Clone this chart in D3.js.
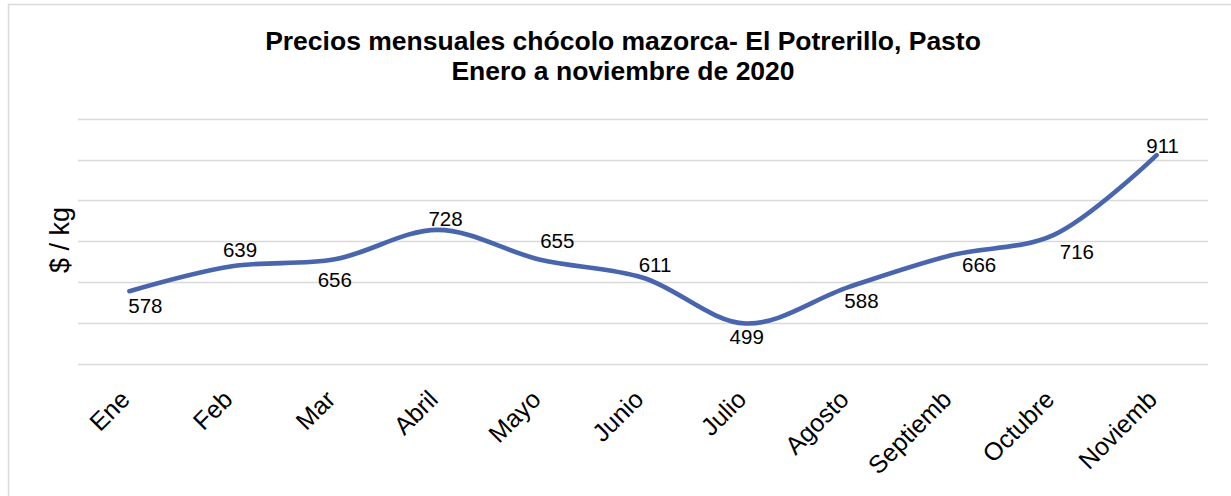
<!DOCTYPE html>
<html>
<head>
<meta charset="utf-8">
<script src="https://cdn.jsdelivr.net/npm/d3@7"></script>
<style>
  body { margin: 0; background: #fff; }
  svg { display: block; font-family: "Liberation Sans", Arial, sans-serif; }
</style>
</head>
<body>
<script>
// data
var months = ["Ene", "Feb", "Mar", "Abril", "Mayo", "Junio", "Julio", "Agosto", "Septiemb", "Octubre", "Noviemb"];
var prices = [578, 639, 656, 728, 655, 611, 499, 588, 666, 716, 911];
var yTicks = [400, 500, 600, 700, 800, 900, 1000];
var titleLines = ["Precios mensuales chócolo mazorca- El Potrerillo, Pasto", "Enero a noviembre de 2020"];

// where each value label sits relative to its point (dx, dy to baseline)
var labelShift = [[16, 22], [8, -9], [0, 28], [8, -4], [17, -12], [12, -6], [1, 20], [13, 21], [28, 17], [23, 24], [6, -2]];

var width = 1231, height = 496;

var svg = d3.select("body").append("svg")
    .attr("width", width)
    .attr("height", height);

// chart frame
svg.append("rect")
    .attr("x", 8.5).attr("y", 4.5)
    .attr("width", 1240).attr("height", 520)
    .attr("fill", "none")
    .attr("stroke", "#d9d9d9")
    .attr("stroke-width", 1.5);

var x = d3.scaleBand()
    .domain(months)
    .range([78, 1208]);

var y = d3.scaleLinear()
    .domain([400, 1000])
    .range([364, 118.7]);

// gridlines
svg.append("g")
    .selectAll("line")
    .data(yTicks)
    .enter().append("line")
    .attr("x1", 78).attr("x2", 1208)
    .attr("y1", function(d){ return Math.round(y(d)) + 0.5; })
    .attr("y2", function(d){ return Math.round(y(d)) + 0.5; })
    .attr("stroke", "#d9d9d9")
    .attr("stroke-width", 1.3);

// title
svg.append("text")
    .attr("x", 623).attr("y", 50)
    .attr("text-anchor", "middle")
    .attr("font-weight", "bold")
    .attr("font-size", 26.5)
    .attr("fill", "#000")
    .selectAll("tspan")
    .data(titleLines)
    .enter().append("tspan")
    .attr("x", 623)
    .attr("dy", function(d, i){ return i ? 30 : 0; })
    .text(function(d){ return d; });

// y axis title
svg.append("text")
    .attr("transform", "translate(69,240) rotate(-90)")
    .attr("text-anchor", "middle")
    .attr("font-size", 27)
    .text("$ / kg");

// x axis labels
svg.append("g")
    .selectAll("text")
    .data(months)
    .enter().append("text")
    .attr("transform", function(d){
        return "translate(" + (x(d) + x.bandwidth() / 2 + 2) + ",401) rotate(-45)";
    })
    .attr("text-anchor", "end")
    .attr("font-size", 25)
    .text(function(d){ return d; });

var pts = prices.map(function(v, i){
    return { m: months[i], v: v, i: i };
});

var line = d3.line()
    .x(function(d){ return x(d.m) + x.bandwidth() / 2; })
    .y(function(d){ return y(d.v); })
    .curve(d3.curveCatmullRom.alpha(0.5));

svg.append("path")
    .datum(pts)
    .attr("d", line)
    .attr("fill", "none")
    .attr("stroke", "#4865ad")
    .attr("stroke-width", 4.6)
    .attr("stroke-linecap", "round");

// value labels
svg.append("g")
    .selectAll("text")
    .data(pts)
    .enter().append("text")
    .attr("x", function(d){ return x(d.m) + x.bandwidth() / 2 + labelShift[d.i][0]; })
    .attr("y", function(d){ return y(d.v) + labelShift[d.i][1]; })
    .attr("text-anchor", "middle")
    .attr("font-size", 20.5)
    .attr("fill", "#000")
    .text(function(d){ return d.v; });
</script>
</body>
</html>
